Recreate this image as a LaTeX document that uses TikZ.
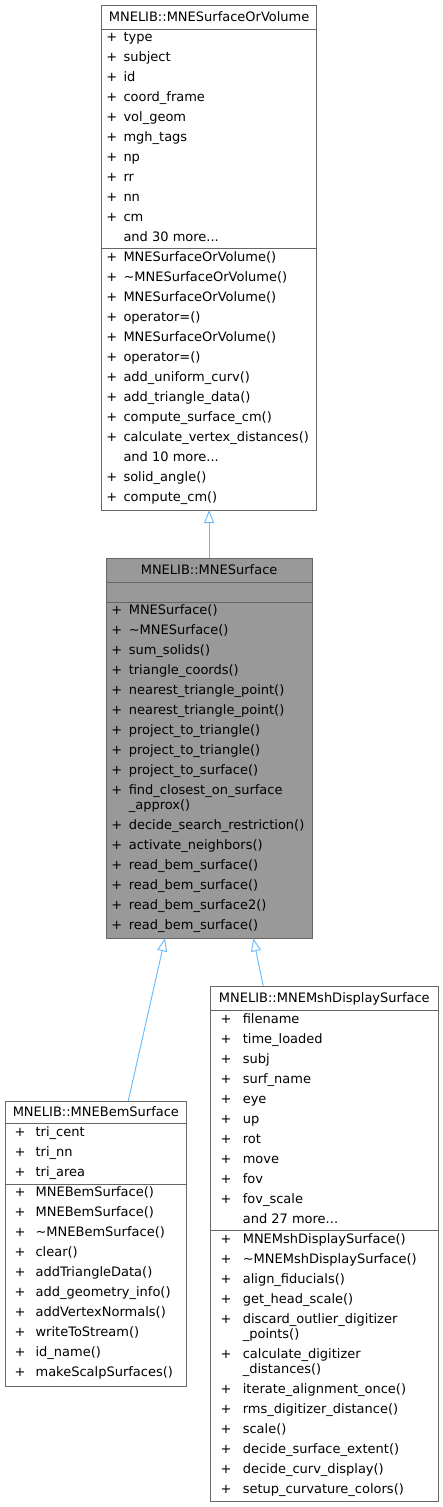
\documentclass[tikz,border=0pt]{standalone}
\usepackage{fontspec}
\setmainfont{DejaVu Sans}
\usetikzlibrary{positioning,arrows.meta}
\definecolor{edge}{RGB}{99,184,255}
\definecolor{frame}{RGB}{102,102,102}
\definecolor{cur}{RGB}{153,153,153}

\begin{document}
\begin{tikzpicture}[x=1pt,y=-1pt,font=\fontsize{13}{15}\selectfont,
  cls/.style={draw=frame,line width=0.9pt,fill=white,outer sep=0pt,inner sep=0pt},
  head/.style={cls,text height=9.5pt,text depth=0pt},
  mem/.style={anchor=base west,inner sep=0pt,outer sep=0pt},
  inh/.style={draw=edge,line width=0.9pt,-{Triangle[open,length=13pt,width=10pt]}}]
  \useasboundingbox (0,0) rectangle (443,1507);
  % base class: MNESurfaceOrVolume
  \node[head,anchor=north west,minimum width=215.2pt,minimum height=24.3pt] (vol) at (101.5,5) {MNELIB::MNESurfaceOrVolume};
  \node[cls,below=0pt of vol,minimum width=215.2pt,minimum height=219.2pt] (vol-attr) {};
  \node[cls,below=0pt of vol-attr,minimum width=215.2pt,minimum height=261.5pt] (vol-ops) {};
  \foreach \t [count=\i from 0] in {type,subject,id,coord\_frame,vol\_geom,mgh\_tags,np,rr,nn,cm}{
    \node[mem] (vol-ap\i) at (106.3,41.7+20*\i) {+};
    \node[mem] (vol-a\i) at (123.5,41.7+20*\i) {\t};}
  \node[mem] (vol-amore) at (123.5,241.7) {and 30 more...};
  \foreach \t [count=\i from 0] in {MNESurfaceOrVolume(),\textasciitilde MNESurfaceOrVolume(),MNESurfaceOrVolume(),operator=(),MNESurfaceOrVolume(),operator=(),add\_uniform\_curv(),add\_triangle\_data(),compute\_surface\_cm(),calculate\_vertex\_distances()}{
    \node[mem] (vol-op\i) at (106.3,261.7+20*\i) {+};
    \node[mem] (vol-o\i) at (123.5,261.7+20*\i) {\t};}
  \node[mem] (vol-omore) at (123.5,461.7) {and 10 more...};
  \foreach \t [count=\i from 10] in {solid\_angle(),compute\_cm()}{
    \node[mem] (vol-op\i) at (106.3,481.7+20*\i-200) {+};
    \node[mem] (vol-o\i) at (123.5,481.7+20*\i-200) {\t};}
  % this class: MNESurface
  \node[head,fill=cur,below=48.3pt of vol-ops,minimum width=205.7pt,minimum height=23.7pt] (surf) {MNELIB::MNESurface};
  \node[cls,fill=cur,below=0pt of surf,minimum width=205.7pt,minimum height=20pt] (surf-attr) {};
  \node[cls,fill=cur,below=0pt of surf-attr,minimum width=205.7pt,minimum height=336.3pt] (surf-ops) {};
  \foreach \t [count=\i from 0] in {MNESurface(),\textasciitilde MNESurface(),sum\_solids(),triangle\_coords(),nearest\_triangle\_point(),nearest\_triangle\_point(),project\_to\_triangle(),project\_to\_triangle(),project\_to\_surface(),find\_closest\_on\_surface}{
    \node[mem] (surf-op\i) at (111.3,614.5+20*\i) {+};
    \node[mem] (surf-o\i) at (128.8,614.5+20*\i) {\t};}
  \node[mem] (surf-o9b) at (128.8,809.5) {\_approx()};
  \foreach \t [count=\i from 10] in {decide\_search\_restriction(),activate\_neighbors(),read\_bem\_surface(),read\_bem\_surface(),read\_bem\_surface2(),read\_bem\_surface()}{
    \node[mem] (surf-op\i) at (111.3,629.5+20*\i) {+};
    \node[mem] (surf-o\i) at (128.8,629.5+20*\i) {\t};}
  % derived: MNEBemSurface
  \node[head,anchor=north west,minimum width=181.7pt,minimum height=22.3pt] (bem) at (5,1101) {MNELIB::MNEBemSurface};
  \node[cls,below=0pt of bem,minimum width=181.7pt,minimum height=61pt] (bem-attr) {};
  \node[cls,below=0pt of bem-attr,minimum width=181.7pt,minimum height=201.7pt] (bem-ops) {};
  \foreach \t [count=\i from 0] in {tri\_cent,tri\_nn,tri\_area}{
    \node[mem] (bem-ap\i) at (14.6,1136.7+20*\i) {+};
    \node[mem] (bem-a\i) at (35.6,1136.7+20*\i) {\t};}
  \foreach \t [count=\i from 0] in {MNEBemSurface(),MNEBemSurface(),\textasciitilde MNEBemSurface(),clear(),addTriangleData(),add\_geometry\_info(),addVertexNormals(),writeToStream(),id\_name(),makeScalpSurfaces()}{
    \node[mem] (bem-op\i) at (14.6,1196.7+20*\i) {+};
    \node[mem] (bem-o\i) at (35.6,1196.7+20*\i) {\t};}
  % derived: MNEMshDisplaySurface
  \node[head,anchor=north west,minimum width=227.4pt,minimum height=24pt] (msh) at (210.6,986) {MNELIB::MNEMshDisplaySurface};
  \node[cls,below=0pt of msh,minimum width=227.4pt,minimum height=220pt] (msh-attr) {};
  \node[cls,below=0pt of msh-attr,minimum width=227.4pt,minimum height=271.7pt] (msh-ops) {};
  \foreach \t [count=\i from 0] in {filename,time\_loaded,subj,surf\_name,eye,up,rot,move,fov,fov\_scale}{
    \node[mem] (msh-ap\i) at (220.6,1023.3+20*\i) {+};
    \node[mem] (msh-a\i) at (242.8,1023.3+20*\i) {\t};}
  \node[mem] (msh-amore) at (242.8,1223.3) {and 27 more...};
  \foreach \t [count=\i from 0] in {MNEMshDisplaySurface(),\textasciitilde MNEMshDisplaySurface(),align\_fiducials(),get\_head\_scale(),discard\_outlier\_digitizer}{
    \node[mem] (msh-op\i) at (220.6,1243.3+20*\i) {+};
    \node[mem] (msh-o\i) at (242.8,1243.3+20*\i) {\t};}
  \node[mem] (msh-o4b) at (242.8,1338.3) {\_points()};
  \node[mem] (msh-op5) at (220.6,1358.3) {+};
  \node[mem] (msh-o5) at (242.8,1358.3) {calculate\_digitizer};
  \node[mem] (msh-o5b) at (242.8,1373.3) {\_distances()};
  \foreach \t [count=\i from 6] in {iterate\_alignment\_once(),rms\_digitizer\_distance(),scale(),decide\_surface\_extent(),decide\_curv\_display(),setup\_curvature\_colors()}{
    \node[mem] (msh-op\i) at (220.6,1273.3+20*\i) {+};
    \node[mem] (msh-o\i) at (242.8,1273.3+20*\i) {\t};}
  % inheritance edges
  \draw[inh] (surf.north) -- (vol-ops.south);
  \draw[inh] ([xshift=32.4pt]bem.north) -- ([xshift=-44.1pt]surf-ops.south);
  \draw[inh] ([xshift=-61pt]msh.north) -- ([xshift=44.2pt]surf-ops.south);
\end{tikzpicture}
\end{document}
